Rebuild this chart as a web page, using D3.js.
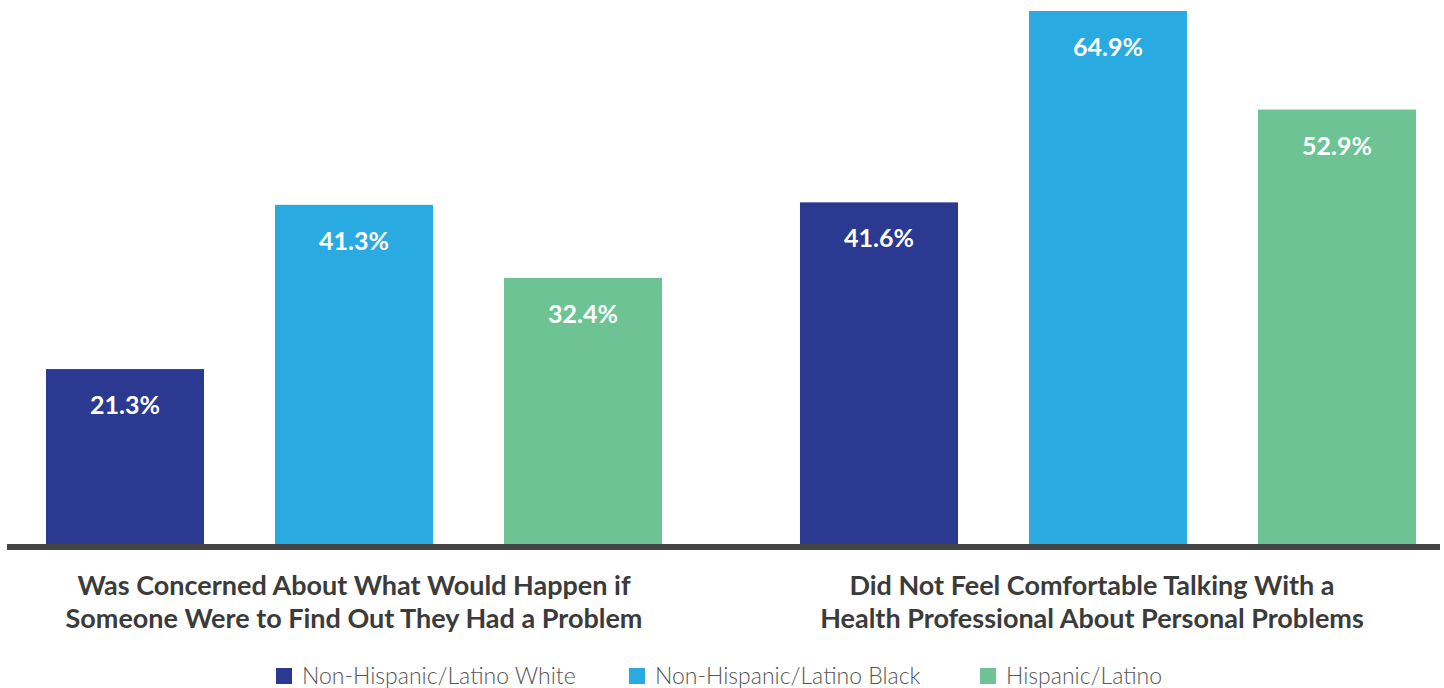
<!DOCTYPE html>
<html>
<head>
<meta charset="utf-8">
<script src="https://cdn.jsdelivr.net/npm/d3@7"></script>
<style>
  body { margin: 0; background: #fff; }
  svg { display: block; font-family: Lato, "Open Sans", sans-serif; }
</style>
</head>
<body>
<div id="chart"></div>
<script>
// data
let groups = ["g1", "g2"]
let groupLines = [
    ["Was Concerned About What Would Happen if", "Someone Were to Find Out They Had a Problem"],
    ["Did Not Feel Comfortable Talking With a", "Health Professional About Personal Problems"]
]
let seriesNames = ["Non-Hispanic/Latino White", "Non-Hispanic/Latino Black", "Hispanic/Latino"]
let seriesColors = ["#2B3990", "#29ABE2", "#6DC393"]
let whiteValues = [21.3, 41.6]
let blackValues = [41.3, 64.9]
let hispValues = [32.4, 52.9]

let width = 1444, height = 688
let baseY = 544

let rows = []
groups.forEach((g, i) => {
    rows.push({ group: g, series: seriesNames[0], value: whiteValues[i] })
    rows.push({ group: g, series: seriesNames[1], value: blackValues[i] })
    rows.push({ group: g, series: seriesNames[2], value: hispValues[i] })
})

let svg = d3.select("#chart")
    .append("svg")
    .attr("width", width)
    .attr("height", height)

let x0 = d3.scaleBand()
    .domain(groups)
    .range([46, 1416])
    .paddingInner(0.183)
    .paddingOuter(0)

let x1 = d3.scaleBand()
    .domain(seriesNames)
    .range([0, x0.bandwidth()])
    .paddingInner(0.31)
    .paddingOuter(0)

let y = d3.scaleLinear()
    .domain([0, 64.9])
    .range([baseY, 11])

let color = d3.scaleOrdinal()
    .domain(seriesNames)
    .range(seriesColors)

let bars = svg.append("g")
    .selectAll("g")
    .data(rows)
    .enter()
    .append("g")

bars.append("rect")
    .attr("x", d => x0(d.group) + x1(d.series))
    .attr("y", d => y(d.value))
    .attr("width", x1.bandwidth())
    .attr("height", d => baseY - y(d.value))
    .style("fill", d => color(d.series))

bars.append("text")
    .attr("x", d => x0(d.group) + x1(d.series) + x1.bandwidth() / 2)
    .attr("y", d => y(d.value) + 45)
    .attr("text-anchor", "middle")
    .style("fill", "#fff")
    .style("font-size", "25px")
    .style("font-weight", "bold")
    .text(d => d.value.toFixed(1) + "%")

// baseline
svg.append("rect")
    .attr("x", 7)
    .attr("y", baseY)
    .attr("width", 1433)
    .attr("height", 6)
    .style("fill", "#444")

// category labels
let catLabels = svg.append("g")
    .selectAll("text")
    .data(groups)
    .enter()
    .append("text")
    .attr("x", (d, i) => x0(d) + x0.bandwidth() / 2 + (i == 1 ? -16 : 0))
    .attr("y", 595)
    .attr("text-anchor", "middle")
    .style("fill", "#3b3b3b")
    .style("font-size", "27px")
    .style("font-weight", "bold")

catLabels.selectAll("tspan")
    .data((d, i) => groupLines[i])
    .enter()
    .append("tspan")
    .attr("x", function () { return d3.select(this.parentNode).attr("x") })
    .attr("dy", (d, i) => i == 0 ? 0 : 33)
    .text(d => d)

// legend
let legendX = [276, 629, 980]
let legend = svg.append("g")
    .selectAll("g")
    .data(seriesNames)
    .enter()
    .append("g")
    .attr("transform", (d, i) => "translate(" + legendX[i] + ",668)")

legend.append("rect")
    .attr("width", 16)
    .attr("height", 16)
    .style("fill", d => color(d))

legend.append("text")
    .attr("x", 26)
    .attr("y", 16)
    .style("fill", "#555")
    .style("font-size", "23px")
    .style("font-weight", 300)
    .text(d => d)
</script>
</body>
</html>
